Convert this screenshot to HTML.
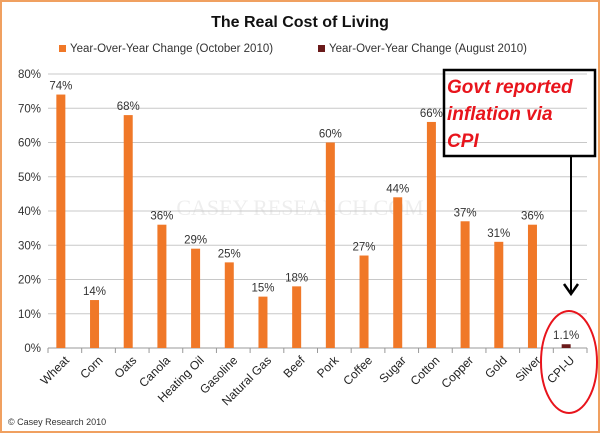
<!DOCTYPE html>
<html><head><meta charset="utf-8"><style>
body{margin:0;background:#fff}
svg{display:block;font-family:"Liberation Sans",sans-serif}
</style></head><body>
<svg width="600" height="433" viewBox="0 0 600 433" id="c">
<rect x="1" y="1" width="598" height="431" fill="#fff" stroke="#f0a060" stroke-width="2"/>
<text x="300" y="27" text-anchor="middle" font-size="16" font-weight="bold" fill="#111">The Real Cost of Living</text>
<g>
<rect x="59" y="45" width="7" height="7" fill="#f07828"/>
<text x="70" y="52" font-size="11.5" fill="#333">Year-Over-Year  Change (October 2010)</text>
<rect x="318" y="45" width="7" height="7" fill="#6a1a1a"/>
<text x="329" y="52" font-size="11.5" fill="#333">Year-Over-Year  Change (August 2010)</text>
</g>
<text x="300" y="215" text-anchor="middle" font-size="22" fill="#eeeeee" font-family="Liberation Serif,serif">CASEY RESEARCH.COM</text>
<g id="grid"></g><g id="bars"></g><g id="xl"></g>
<text x="8" y="425" font-size="9" fill="#333">© Casey Research 2010</text>
<rect x="444" y="70" width="151" height="86" fill="none" stroke="#000" stroke-width="2.5"/>
<g font-size="19" font-weight="bold" font-style="italic" fill="#e8141c">
<text x="447" y="93">Govt reported</text><text x="447" y="120">inflation via</text><text x="447" y="147">CPI</text></g>
<line x1="571" y1="156" x2="571" y2="292" stroke="#000" stroke-width="2"/>
<path d="M564 284 L571 294 L578 284" fill="none" stroke="#000" stroke-width="2.5"/>
<ellipse cx="569" cy="362" rx="28" ry="51" fill="none" stroke="#e8141c" stroke-width="2"/>
</svg>
<script>
const categories=["Wheat","Corn","Oats","Canola","Heating Oil","Gasoline","Natural Gas","Beef","Pork","Coffee","Sugar","Cotton","Copper","Gold","Silver","CPI-U"];
const values=[74,14,68,36,29,25,15,18,60,27,44,66,37,31,36,1.1];
const valueLabels=["74%","14%","68%","36%","29%","25%","15%","18%","60%","27%","44%","66%","37%","31%","36%","1.1%"];
const yTicks=[0,10,20,30,40,50,60,70,80];
const L=48,R=587,Y0=348,Y80=74;
const y=v=>Y0-(v/80)*(Y0-Y80);
const bw=(R-L)/categories.length;
const x=i=>L+bw*(i+0.5)-4;
const NS="http://www.w3.org/2000/svg";
function mk(t,a,p){const e=document.createElementNS(NS,t);for(const k in a)e.setAttribute(k,a[k]);p.appendChild(e);return e;}
const g=document.getElementById('grid'),b=document.getElementById('bars'),xl=document.getElementById('xl');
yTicks.forEach(t=>{
 const ln=mk('line',{x1:L,x2:R,y1:y(t),y2:y(t),stroke:t?'#c8c8c8':'#999','stroke-width':1},g);
 
 
 const tx=mk('text',{x:L-7,y:y(t)+4,'text-anchor':'end','font-size':11.5,fill:'#333'},g);tx.textContent=t+'%';
 
 
});
for(let i=0;i<=categories.length;i++){mk('line',{x1:L+bw*i,x2:L+bw*i,y1:Y0,y2:Y0+5,stroke:'#999'},g);}
categories.forEach((c,i)=>{
 const last=i===categories.length-1;
 const r=mk('rect',{x:x(i)-4.5,y:y(values[i]),width:9,height:Y0-y(values[i]),fill:last?'#6a1a1a':'#f07828'},b);
 
 
 const t=mk('text',{x:x(i),y:y(values[i])-5,'text-anchor':'middle','font-size':11.5,fill:'#333'},b);t.textContent=valueLabels[i];
 
 
 const l=mk('text',{transform:`translate(${x(i)+9},${Y0+13}) rotate(-45)`,'text-anchor':'end','font-size':12,fill:'#222'},xl);l.textContent=c;
 
 
});
</script>
</body></html>
